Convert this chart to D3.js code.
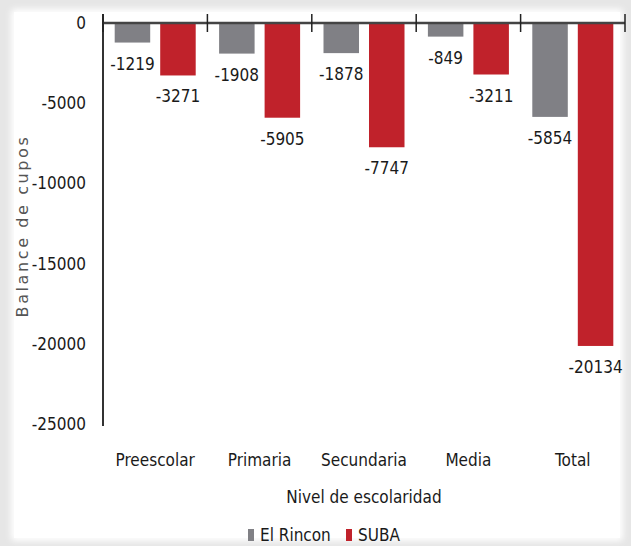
<!DOCTYPE html>
<html>
<head>
<meta charset="utf-8">
<script src="https://cdn.jsdelivr.net/npm/d3@7"></script>
<style>
  html, body { margin: 0; padding: 0; background: #e6e6e6; }
  svg { display: block; }
  text { font-family: "DejaVu Sans Condensed", "DejaVu Sans", sans-serif; fill: #1a1a1a; }
</style>
</head>
<body>
<svg id="chart" width="631" height="546"></svg>
<script>
const categories = ["Preescolar", "Primaria", "Secundaria", "Media", "Total"];
const seriesNames = ["El Rincon", "SUBA"];
const elRincon = [-1219, -1908, -1878, -849, -5854];
const suba = [-3271, -5905, -7747, -3211, -20134];
const yTicks = [0, -5000, -10000, -15000, -20000, -25000];
const colors = ["#808085", "#c0222b"];
const yTitle = "Balance de cupos";
const xTitle = "Nivel de escolaridad";

const seriesValues = [elRincon, suba];
const data = categories.map((c, i) => ({
  cat: c,
  vals: seriesNames.map((s, j) => ({ series: s, idx: j, value: seriesValues[j][i] }))
}));

const svg = d3.select("#chart");

// background panel
const defs = svg.append("defs");
const f = defs.append("filter").attr("id", "soft").attr("x", "-5%").attr("y", "-5%").attr("width", "110%").attr("height", "110%");
f.append("feGaussianBlur").attr("stdDeviation", 3);
svg.append("rect").attr("width", 631).attr("height", 546).attr("fill", "#e6e6e6");
svg.append("rect").attr("x", 11).attr("y", 9).attr("width", 612).attr("height", 532)
  .attr("rx", 4).attr("fill", "#ffffff").attr("filter", "url(#soft)");
svg.append("rect").attr("x", 14).attr("y", 12).attr("width", 606).attr("height", 526)
  .attr("fill", "#ffffff");

const mLeft = 103, mRight = 625, mTop = 23, mBottom = 424;

const x = d3.scaleBand().domain(categories).range([mLeft, mRight]).paddingInner(0).paddingOuter(0);
const xs = d3.scaleBand().domain(seriesNames).range([0, x.bandwidth()]).paddingInner(0.22).paddingOuter(0.257);
const y = d3.scaleLinear().domain([-25000, 0]).range([mBottom, mTop]);

// bars
const g = svg.append("g");
const groups = g.selectAll("g.cat").data(data).join("g")
  .attr("class", "cat")
  .attr("transform", d => `translate(${x(d.cat)},0)`);

groups.selectAll("rect").data(d => d.vals).join("rect")
  .attr("x", d => xs(d.series))
  .attr("width", xs.bandwidth())
  .attr("y", y(0))
  .attr("height", d => y(d.value) - y(0))
  .attr("fill", d => colors[d.idx]);

groups.selectAll("text.lbl").data(d => d.vals).join("text")
  .attr("class", "lbl")
  .attr("x", d => xs(d.series) + xs.bandwidth() / 2)
  .attr("y", d => y(d.value) + 27)
  .attr("text-anchor", "middle")
  .attr("font-size", 17)
  .text(d => String(d.value));

// y axis
const yAxis = d3.axisLeft(y).tickValues(yTicks).tickSize(0).tickPadding(17).tickFormat(d => String(d));
const yg = svg.append("g").attr("transform", `translate(${mLeft},0)`).call(yAxis);
yg.select(".domain").attr("stroke", "#333").attr("stroke-width", 2).attr("d", `M0,${mTop - 9}V${mBottom + 2}`);
yg.selectAll(".tick text").attr("font-size", 17).attr("fill", "#1a1a1a")
  .style("font-family", '"DejaVu Sans Condensed", "DejaVu Sans", sans-serif');

// x axis line at zero with boundary ticks
const xg = svg.append("g");
xg.append("line").attr("x1", mLeft).attr("x2", mRight).attr("y1", y(0)).attr("y2", y(0))
  .attr("stroke", "#444").attr("stroke-width", 2.5);
const bounds = categories.map(c => x(c)).concat([x.range()[1]]);
xg.selectAll("line.tk").data(bounds).join("line").attr("class", "tk")
  .attr("x1", d => d).attr("x2", d => d)
  .attr("y1", y(0) - 9).attr("y2", y(0) + 9)
  .attr("stroke", "#222").attr("stroke-width", 1.5);

// category labels
svg.append("g").selectAll("text").data(categories).join("text")
  .attr("x", d => x(d) + x.bandwidth() / 2)
  .attr("y", 466)
  .attr("text-anchor", "middle")
  .attr("font-size", 17)
  .text(d => d);

// axis titles
svg.append("text").attr("x", (mLeft + mRight) / 2).attr("y", 503)
  .attr("text-anchor", "middle").attr("font-size", 17).text(xTitle);

svg.append("text")
  .attr("transform", "translate(28,226) rotate(-90)")
  .attr("text-anchor", "middle")
  .attr("font-size", 16)
  .attr("letter-spacing", 2.6)
  .style("font-family", '"DejaVu Sans", sans-serif')
  .style("fill", "#555")
  .text(yTitle);

// legend
const legendX = [248, 346];
const lg = svg.append("g").selectAll("g").data(seriesNames).join("g")
  .attr("transform", (d, i) => `translate(${legendX[i]},529)`);
lg.append("rect").attr("width", 6).attr("height", 12).attr("fill", (d, i) => colors[i]);
lg.append("text").attr("x", 12).attr("y", 12).attr("font-size", 17).text(d => d);
</script>
</body>
</html>
